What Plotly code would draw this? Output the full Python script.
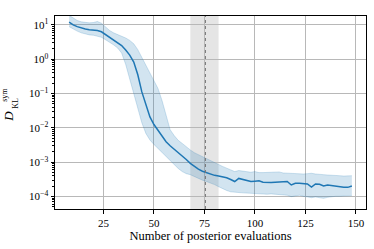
import numpy as np
import plotly.graph_objects as go

# Data: x = number of posterior evaluations,
# values stored as log10 of D_KL^sym (median and band bounds)
evals = list(range(8, 149, 2))
median_log10 = [1.08, 1.00, 0.95, 0.91, 0.88, 0.86, 0.85, 0.84, 0.80, 0.72,
                0.64, 0.55, 0.47, 0.40, 0.27, 0.12, -0.08, -0.45, -0.95, -1.35,
                -1.68, -1.90, -2.06, -2.25, -2.40, -2.52, -2.62, -2.70, -2.82, -2.92,
                -3.03, -3.12, -3.20, -3.26, -3.30, -3.35, -3.38, -3.40, -3.42, -3.45,
                -3.50, -3.56, -3.47, -3.50, -3.54, -3.56, -3.55, -3.54, -3.58, -3.59,
                -3.59, -3.58, -3.57, -3.57, -3.56, -3.66, -3.61, -3.61, -3.61, -3.63,
                -3.72, -3.63, -3.64, -3.69, -3.66, -3.68, -3.71, -3.73, -3.73, -3.73,
                -3.69]
upper_log10 = [1.28, 1.20, 1.13, 1.09, 1.07, 1.06, 1.07, 1.10, 1.05, 0.95,
               0.84, 0.77, 0.72, 0.68, 0.62, 0.55, 0.45, 0.28, 0.05, -0.17,
               -0.42, -0.65, -0.85, -1.20, -1.65, -2.05, -2.22, -2.36, -2.45, -2.55,
               -2.64, -2.72, -2.78, -2.83, -2.90, -2.95, -3.00, -3.06, -3.12, -3.17,
               -3.22, -3.27, -3.24, -3.25, -3.28, -3.29, -3.27, -3.30, -3.30, -3.29,
               -3.30, -3.28, -3.28, -3.31, -3.32, -3.31, -3.33, -3.35, -3.34, -3.33,
               -3.32, -3.34, -3.36, -3.36, -3.37, -3.37, -3.38, -3.39, -3.40, -3.39,
               -3.39]
lower_log10 = [0.95, 0.88, 0.82, 0.77, 0.73, 0.71, 0.70, 0.68, 0.64, 0.57,
               0.50, 0.42, 0.33, 0.18, -0.15, -0.58, -1.05, -1.45, -1.85, -2.16,
               -2.35, -2.48, -2.60, -2.73, -2.85, -2.97, -3.08, -3.18, -3.27, -3.33,
               -3.36, -3.42, -3.48, -3.52, -3.56, -3.60, -3.65, -3.71, -3.77, -3.82,
               -3.86, -3.88, -3.88, -3.89, -3.90, -3.90, -3.91, -3.92, -3.92, -3.93,
               -3.92, -3.93, -3.93, -3.95, -3.96, -4.00, -3.97, -3.96, -3.99, -4.02,
               -4.03, -4.01, -4.02, -4.05, -4.02, -4.00, -3.99, -3.99, -3.99, -3.98,
               -3.97]
span_range = [68, 82]
marker_x = 75.5
x_ticks = [25, 50, 75, 100, 125, 150]
y_exponents = [-4, -3, -2, -1, 0, 1]

median = 10 ** np.array(median_log10)
upper = 10 ** np.array(upper_log10)
lower = 10 ** np.array(lower_log10)

BLUE = "#1f77b4"
FONT = "Liberation Serif"

fig = go.Figure()
fig.add_trace(go.Scatter(x=evals, y=lower, mode="lines",
                         line=dict(color="rgba(31,119,180,0.25)", width=0.8),
                         showlegend=False, hoverinfo="skip"))
fig.add_trace(go.Scatter(x=evals, y=upper, mode="lines", fill="tonexty",
                         fillcolor="rgba(31,119,180,0.2)",
                         line=dict(color="rgba(31,119,180,0.25)", width=0.8),
                         showlegend=False, hoverinfo="skip"))
fig.add_trace(go.Scatter(x=evals, y=median, mode="lines",
                         line=dict(color=BLUE, width=1.5), showlegend=False))

fig.add_shape(type="rect", xref="x", yref="paper", x0=span_range[0], x1=span_range[1],
              y0=0, y1=1, fillcolor="rgba(0,0,0,0.10)", line=dict(width=0), layer="between")
fig.add_shape(type="line", xref="x", yref="paper", x0=marker_x, x1=marker_x, y0=0, y1=1,
              line=dict(color="#777777", width=1, dash="dot"), layer="above")

minor_vals = [m * 10.0 ** e for e in range(-5, 2) for m in range(2, 10)]

fig.update_layout(
    width=374, height=249, autosize=False,
    margin=dict(l=55, r=8, t=16, b=40),
    paper_bgcolor="white", plot_bgcolor="white",
    font=dict(family=FONT, size=11, color="black"),
    xaxis=dict(range=[1, 155], tickvals=x_ticks, ticks="outside", ticklen=3.5,
               tickwidth=0.8, tickcolor="black", showline=True, linecolor="black",
               linewidth=1, mirror=True, showgrid=True, gridcolor="#b8b8b8",
               gridwidth=1, zeroline=False,
               title=dict(text="Number of posterior evaluations",
                          font=dict(family=FONT, size=12.5), standoff=3)),
    yaxis=dict(type="log", range=[-4.36, 1.26], tickvals=[10.0 ** e for e in y_exponents],
               ticktext=["10<sup>%s</sup>" % (str(e).replace("-", "\u2212")) for e in y_exponents],
               ticks="outside", ticklen=3.5, tickwidth=0.8, tickcolor="black",
               showline=True, linecolor="black", linewidth=1, mirror=True,
               showgrid=True, gridcolor="#b8b8b8", gridwidth=1, zeroline=False,
               minor=dict(tickvals=minor_vals, ticks="outside", ticklen=2,
                          tickwidth=0.6, tickcolor="black", showgrid=False)),
)

# y-axis label D_KL^sym built from rotated annotations
fig.add_annotation(text="<i>D</i>", xref="paper", yref="paper", x=-0.1495, y=0.48,
                   showarrow=False, textangle=-90, font=dict(family=FONT, size=13),
                   xanchor="center", yanchor="middle")
fig.add_annotation(text="KL", xref="paper", yref="paper", x=-0.127, y=0.548,
                   showarrow=False, textangle=-90, font=dict(family=FONT, size=8),
                   xanchor="center", yanchor="middle")
fig.add_annotation(text="sym", xref="paper", yref="paper", x=-0.162, y=0.59,
                   showarrow=False, textangle=-90, font=dict(family=FONT, size=8),
                   xanchor="center", yanchor="middle")

# remove the default 8px body margin so the figure fills the window exactly
fig.write_html("out.html", config={"displayModeBar": False},
               post_script="document.body.style.margin='0';")
